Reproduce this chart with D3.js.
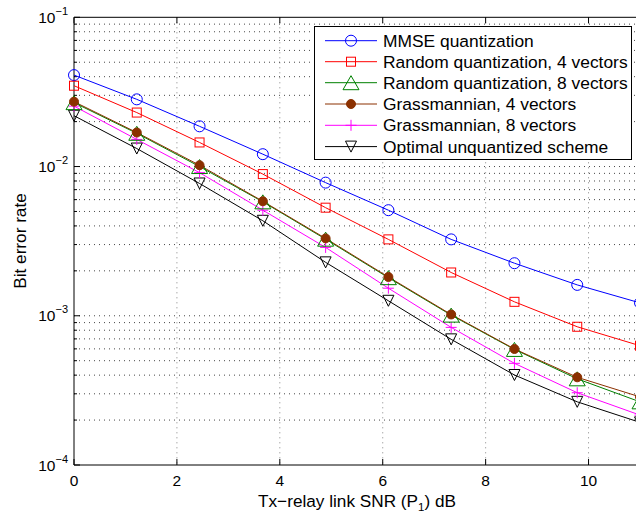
<!DOCTYPE html>
<html>
<head>
<meta charset="utf-8">
<script src="https://cdn.jsdelivr.net/npm/d3@7/dist/d3.min.js"></script>
<style>
  html, body { margin: 0; padding: 0; background: #fff; }
  svg { display: block; }
  text { font-family: "Liberation Sans", Arial, Helvetica, sans-serif; fill: #000; }
</style>
</head>
<body>
<svg id="chart" width="636" height="514"></svg>
<script>
// ---- Data ----
const snr = [0, 1.22, 2.44, 3.67, 4.89, 6.11, 7.33, 8.56, 9.78, 11];
const mmse      = [0.041, 0.0282, 0.0186, 0.0121, 0.0078, 0.0051, 0.00325, 0.00225, 0.00161, 0.00122];
const random4   = [0.0348, 0.0230, 0.0145, 0.0089, 0.0053, 0.00325, 0.00195, 0.00124, 0.000844, 0.00063];
const random8   = [0.0268, 0.0167, 0.0100, 0.0058, 0.00326, 0.00180, 0.00101, 0.000595, 0.000378, 0.000265];
const grass4    = [0.0272, 0.0169, 0.0102, 0.00585, 0.0033, 0.00182, 0.00102, 0.000599, 0.000387, 0.000286];
const grass8    = [0.0254, 0.0152, 0.0091, 0.0051, 0.00287, 0.00153, 0.000836, 0.00048, 0.000305, 0.000216];
const optimal   = [0.0219, 0.0132, 0.0077, 0.00433, 0.00228, 0.00126, 0.000695, 0.000401, 0.000265, 0.000193];
const seriesNames = ["MMSE quantization", "Random quantization, 4 vectors", "Random quantization, 8 vectors",
                     "Grassmannian, 4 vectors", "Grassmannian, 8 vectors", "Optimal unquantized scheme"];
const xTicks = [0, 2, 4, 6, 8, 10];
const yDecades = [-4, -3, -2, -1];

const series = [
  {name: seriesNames[0], values: mmse,    color: "#0000ff", marker: "circle"},
  {name: seriesNames[1], values: random4, color: "#ff0000", marker: "square"},
  {name: seriesNames[2], values: random8, color: "#008000", marker: "triangle"},
  {name: seriesNames[3], values: grass4,  color: "#8b3000", marker: "dot"},
  {name: seriesNames[4], values: grass8,  color: "#ff00ff", marker: "plus"},
  {name: seriesNames[5], values: optimal, color: "#000000", marker: "tridown"}
];

// ---- Layout ----
const pL = 74, pR = 640, pT = 17.3, pB = 465;
const x = d3.scaleLinear().domain([0, 11]).range([pL, pR]);
const y = d3.scaleLog().domain([1e-4, 1e-1]).range([pB, pT]);

const svg = d3.select("#chart");

// grid
const grid = svg.append("g").attr("stroke", "#333").attr("stroke-width", 0.9)
  .attr("stroke-dasharray", "1,4").attr("fill", "none");
xTicks.filter(t => t > 0).forEach(t => {
  grid.append("line").attr("x1", x(t)).attr("x2", x(t)).attr("y1", pT).attr("y2", pB).attr("stroke", "#777");
});
const minorVals = [];
yDecades.slice(0, 3).forEach(d => {
  for (let m = 1; m <= 9; m++) minorVals.push(m * Math.pow(10, d));
});
minorVals.push(1e-1);
minorVals.filter(v => v > 1e-4 && v < 1e-1).forEach(v => {
  grid.append("line").attr("x1", pL).attr("x2", pR).attr("y1", y(v)).attr("y2", y(v));
});

// axes lines
const ax = svg.append("g").attr("stroke", "#000").attr("stroke-width", 1).attr("fill", "none");
ax.append("line").attr("x1", pL).attr("x2", pR).attr("y1", pB).attr("y2", pB);
ax.append("line").attr("x1", pL).attr("x2", pR).attr("y1", pT).attr("y2", pT);
ax.append("line").attr("x1", pL).attr("x2", pL).attr("y1", pT).attr("y2", pB);

// x ticks
xTicks.forEach(t => {
  ax.append("line").attr("x1", x(t)).attr("x2", x(t)).attr("y1", pB).attr("y2", pB - 6);
  ax.append("line").attr("x1", x(t)).attr("x2", x(t)).attr("y1", pT).attr("y2", pT + 6);
  svg.append("text").attr("x", x(t)).attr("y", 485.5).attr("text-anchor", "middle")
    .attr("font-size", 15.5).text(String(t));
});
// y ticks
minorVals.forEach(v => {
  const major = Math.abs(Math.log10(v) - Math.round(Math.log10(v))) < 1e-9;
  ax.append("line").attr("x1", pL).attr("x2", pL + (major ? 6 : 3)).attr("y1", y(v)).attr("y2", y(v));
});
yDecades.forEach(d => {
  const t = svg.append("text").attr("x", 68).attr("y", y(Math.pow(10, d)) + 5.5)
    .attr("text-anchor", "end").attr("font-size", 15.5);
  t.append("tspan").text("10");
  t.append("tspan").attr("font-size", 11).attr("dy", -8).text("\u2212" + Math.abs(d));
});

// axis labels
const xl = svg.append("text").attr("x", 357).attr("y", 506.5).attr("text-anchor", "middle").attr("font-size", 17.2);
xl.append("tspan").text("Tx\u2212relay link SNR (P");
xl.append("tspan").attr("font-size", 11.5).attr("dy", 4).text("1");
xl.append("tspan").attr("dy", -4).text(") dB");
svg.append("text").attr("transform", "translate(26,241) rotate(-90)")
  .attr("text-anchor", "middle").attr("font-size", 17.2).text("Bit error rate");

// markers
function drawMarker(g, type, cx, cy, color) {
  if (type === "circle") {
    g.append("circle").attr("cx", cx).attr("cy", cy).attr("r", 5.5)
      .attr("fill", "none").attr("stroke", color).attr("stroke-width", 1);
  } else if (type === "square") {
    g.append("rect").attr("x", cx - 4.5).attr("y", cy - 4.5).attr("width", 9).attr("height", 9)
      .attr("fill", "none").attr("stroke", color).attr("stroke-width", 1);
  } else if (type === "triangle") {
    const w = 16, h = 14;
    g.append("path").attr("d", `M${cx},${cy - h / 2}L${cx + w / 2},${cy + h / 2}L${cx - w / 2},${cy + h / 2}Z`)
      .attr("fill", "none").attr("stroke", color).attr("stroke-width", 1);
  } else if (type === "dot") {
    g.append("circle").attr("cx", cx).attr("cy", cy).attr("r", 4.5).attr("fill", color).attr("stroke", color);
  } else if (type === "plus") {
    g.append("path").attr("d", `M${cx - 5.5},${cy}H${cx + 5.5}M${cx},${cy - 5.5}V${cy + 5.5}`)
      .attr("fill", "none").attr("stroke", color).attr("stroke-width", 1);
  } else if (type === "tridown") {
    const w = 11, h = 11;
    g.append("path").attr("d", `M${cx},${cy + h / 2}L${cx + w / 2},${cy - h / 2}L${cx - w / 2},${cy - h / 2}Z`)
      .attr("fill", "none").attr("stroke", color).attr("stroke-width", 1);
  }
}

const line = d3.line().x((d, i) => x(snr[i])).y(d => y(d));
const order = [0, 1, 5, 4, 2, 3];
order.forEach(k => {
  const s = series[k];
  svg.append("path").datum(s.values).attr("d", line)
    .attr("fill", "none").attr("stroke", s.color).attr("stroke-width", 1);
});
order.forEach(k => {
  const s = series[k];
  const g = svg.append("g");
  s.values.forEach((v, i) => drawMarker(g, s.marker, x(snr[i]), y(v), s.color));
});

// legend
const lg = svg.append("g");
lg.append("rect").attr("x", 314.5).attr("y", 26.5).attr("width", 317).attr("height", 133)
  .attr("fill", "#fff").attr("stroke", "#000").attr("stroke-width", 1);
const rowY = [40.7, 61.7, 82.7, 104, 125.3, 146.6];
series.forEach((s, i) => {
  const cy = rowY[i];
  lg.append("line").attr("x1", 325).attr("x2", 377).attr("y1", cy).attr("y2", cy)
    .attr("stroke", s.color).attr("stroke-width", 1);
  drawMarker(lg, s.marker, 351, cy, s.color);
  lg.append("text").attr("x", 383).attr("y", cy + 6).attr("font-size", 17.4).text(s.name);
});
</script>
</body>
</html>
